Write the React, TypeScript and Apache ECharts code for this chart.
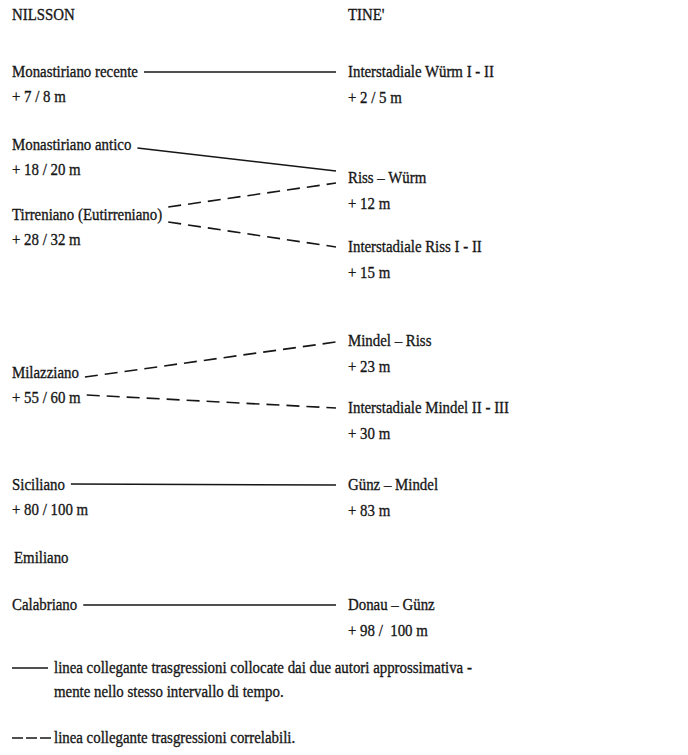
import React, { useEffect, useRef } from "react";
import * as echarts from "echarts";

// ---- data ----
const headers = ["NILSSON", "TINE'"];
const leftNames = [
  "Monastiriano recente",
  "Monastiriano antico",
  "Tirreniano (Eutirreniano)",
  "Milazziano",
  "Siciliano",
  "Emiliano",
  "Calabriano",
];
const leftElev = ["+ 7 / 8 m", "+ 18 / 20 m", "+ 28 / 32 m", "+ 55 / 60 m", "+ 80 / 100 m", "", ""];
const leftRows = [72, 145, 215, 373, 485, 558, 605];

const rightNames = [
  "Interstadiale Würm I - II",
  "Riss – Würm",
  "Interstadiale Riss I - II",
  "Mindel – Riss",
  "Interstadiale Mindel II - III",
  "Günz – Mindel",
  "Donau – Günz",
];
const rightElev = ["+ 2 / 5 m", "+ 12 m", "+ 15 m", "+ 23 m", "+ 30 m", "+ 83 m", "+ 98 /  100 m"];
const rightRows = [72, 178, 247, 341, 408, 485, 605];

// [leftIndex, leftLine (0 name, 1 elevation), leftDy, rightIndex, rightDy, kind]
const links: [number, number, number, number, number, string][] = [
  [0, 0, 0, 0, 0, "solid"],
  [1, 0, 3, 1, -7, "solid"],
  [2, 0, -8, 1, 5, "dashed"],
  [2, 0, 7, 2, 0, "dashed"],
  [3, 0, 4, 3, 1, "dashed"],
  [3, 1, -3, 4, 0, "dashed"],
  [4, 0, -1, 5, 0, "solid"],
  [6, 0, 0, 6, 0, "solid"],
];

const legendKinds = ["solid", "dashed"];
const legendTexts = [
  ["linea collegante trasgressioni collocate dai due autori approssimativa -", "mente nello stesso intervallo di tempo."],
  ["linea collegante trasgressioni correlabili."],
];
const legendRows = [668, 738];

// ---- layout / style ----
const W = 688;
const H = 755;
const LEFT_X = 12;
const RIGHT_X = 348;
const HEADER_Y = 15;
const LINE_GAP = 25;
const FONT = "Liberation Serif";
const FS = 17.5;
const SX = 0.85;
const INK = "#161616";
const DASH = [13, 7];

function textWidth(t: string): number {
  const ctx = document.createElement("canvas").getContext("2d");
  if (!ctx) return t.length * 7;
  ctx.font = `${FS}px "Liberation Serif"`;
  return ctx.measureText(t).width * SX;
}

export default function App() {
  const ref = useRef<HTMLDivElement>(null);
  useEffect(() => {
    document.body.style.margin = "0";
    if (!ref.current) return;
    const chart = echarts.init(ref.current, undefined, { renderer: "svg" });

    const texts: [number, number, string][] = [];
    texts.push([LEFT_X, HEADER_Y, headers[0]]);
    texts.push([RIGHT_X, HEADER_Y, headers[1]]);
    leftNames.forEach((n, i) => {
      texts.push([i === 5 ? LEFT_X + 2 : LEFT_X, leftRows[i], n]);
      if (leftElev[i]) texts.push([LEFT_X, leftRows[i] + LINE_GAP, leftElev[i]]);
    });
    rightNames.forEach((n, i) => {
      texts.push([RIGHT_X, rightRows[i], n]);
      if (rightElev[i]) texts.push([RIGHT_X, rightRows[i] + LINE_GAP + 1, rightElev[i]]);
    });
    legendTexts.forEach((lines, k) => {
      lines.forEach((t, j) => {
        texts.push([54, legendRows[k] + j * 24, t]);
      });
    });

    const linkData = links.map(([li, ll, ldy, ri, rdy, kind]) => {
      const label = ll === 0 ? leftNames[li] : leftElev[li];
      const x1 = LEFT_X + textWidth(label) + 6;
      const y1 = leftRows[li] + ll * LINE_GAP + ldy;
      const x2 = RIGHT_X - 12;
      const y2 = rightRows[ri] + rdy;
      return {
        coords: [
          [x1, y1],
          [x2, y2],
        ],
        lineStyle: { type: kind === "dashed" ? DASH : "solid" },
      };
    });

    const legendLines = legendKinds.map((kind, k) => ({
      coords: [
        [LEFT_X, legendRows[k]],
        [kind === "dashed" ? 52 : 48, legendRows[k]],
      ],
      lineStyle: { type: kind === "dashed" ? [11, 3] : "solid" },
    }));

    chart.setOption({
      animation: false,
      backgroundColor: "#ffffff",
      grid: { left: 0, right: 0, top: 0, bottom: 0 },
      xAxis: { type: "value", min: 0, max: W, show: false },
      yAxis: { type: "value", min: 0, max: H, inverse: true, show: false },
      series: [
        {
          type: "lines",
          coordinateSystem: "cartesian2d",
          silent: true,
          lineStyle: { color: INK, width: 1.6, opacity: 1, curveness: 0 },
          data: [...linkData, ...legendLines],
        },
        {
          type: "custom",
          silent: true,
          data: texts.map((t) => [t[0], t[1]]),
          encode: { x: 0, y: 1 },
          renderItem: (params: any, api: any) => {
            const p = api.coord([api.value(0), api.value(1)]);
            return {
              type: "text",
              x: p[0],
              y: p[1],
              scaleX: SX,
              style: {
                text: texts[params.dataIndex][2],
                fontFamily: FONT,
                fontSize: FS,
                fill: INK,
                stroke: INK,
                lineWidth: 0.35,
                align: "left",
                verticalAlign: "middle",
              },
            };
          },
        },
      ],
    });
    return () => chart.dispose();
  }, []);
  return <div ref={ref} style={{ width: W, height: H }} />;
}
